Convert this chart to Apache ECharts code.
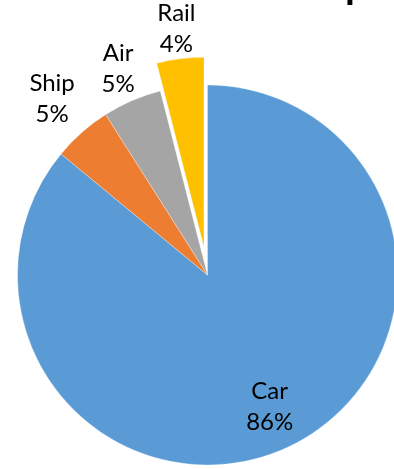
<!DOCTYPE html>
<html>
<head>
<meta charset="utf-8">
<script src="https://cdn.jsdelivr.net/npm/echarts@6/dist/echarts.min.js"></script>
<style>
  html, body { margin: 0; padding: 0; background: #fff; }
  #chart { width: 394px; height: 469px; }
</style>
</head>
<body>
<div id="chart"></div>
<script>
// Share of trips by transport mode
const modes = ['Car', 'Ship', 'Air', 'Rail'];
const shares = [86, 5, 5, 4];
const colors = ['#5B9BD5', '#ED7D31', '#A5A5A5', '#FFC000'];
const pulledOut = 'Rail';

const chart = echarts.init(document.getElementById('chart'), null, { renderer: 'canvas' });

const FONT = 'Lato, "Open Sans", "Noto Sans", sans-serif';
const CENTER = [207.5, 275];
const R = 190;

const labelStyle = {
  position: 'inside',
  formatter: '{b}\n{d}%',
  color: '#000',
  fontFamily: FONT,
  fontSize: 24,
  lineHeight: 31,
  align: 'center',
  verticalAlign: 'middle'
};

// Transparent ring whose 'inside' labels sit at the middle of [r0, r1]
function labelRing(r0, r1, offset, names) {
  return {
    type: 'pie',
    center: CENTER,
    radius: [r0, r1],
    startAngle: 90,
    clockwise: true,
    selectedMode: 'single',
    selectedOffset: offset,
    silent: true,
    animation: false,
    label: labelStyle,
    labelLine: { show: false },
    itemStyle: { color: 'rgba(0,0,0,0)', borderWidth: 0 },
    emphasis: { disabled: true },
    select: { itemStyle: { color: 'rgba(0,0,0,0)' } },
    data: modes.map((m, i) => ({
      name: m,
      value: shares[i],
      selected: m === pulledOut,
      label: { show: names.indexOf(m) >= 0 }
    }))
  };
}

chart.setOption({
  animation: false,
  title: {
    text: 'p',
    left: 340,
    top: -40,
    textStyle: { fontFamily: FONT, fontWeight: 'bold', fontSize: 40, color: '#000' }
  },
  color: colors,
  series: [
    {
      type: 'pie',
      center: CENTER,
      radius: R,
      startAngle: 90,
      clockwise: true,
      selectedMode: 'single',
      selectedOffset: 28,
      silent: true,
      animation: false,
      label: { show: false },
      labelLine: { show: false },
      itemStyle: { borderColor: 'rgba(255,255,255,0.6)', borderWidth: 0.5 },
      emphasis: { disabled: true },
      data: modes.map((m, i) => ({
        name: m,
        value: shares[i],
        selected: m === pulledOut,
        itemStyle: { color: colors[i] }
      }))
    },
    labelRing(204, 260, 0, ['Ship']),
    labelRing(194, 250, 0, ['Air']),
    labelRing(200, 258, 16, ['Rail']),
    labelRing(120, 166, 0, ['Car'])
  ]
});
</script>
</body>
</html>
